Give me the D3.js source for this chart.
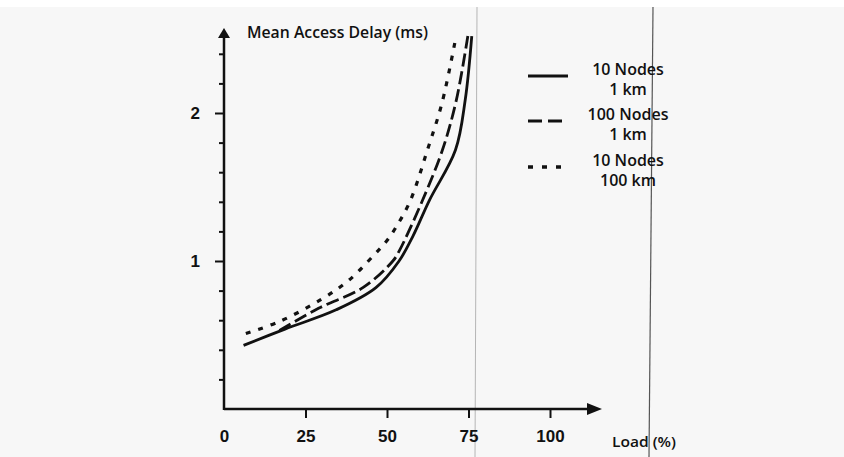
<!DOCTYPE html>
<html>
<head>
<meta charset="utf-8">
<script src="https://cdn.jsdelivr.net/npm/d3@7"></script>
<style>
  body { margin: 0; background: #fff; }
  svg { display: block; font-family: "Open Sans", "DejaVu Sans", sans-serif; }
  text { fill: #111; font-weight: 600; }
</style>
</head>
<body>
<svg width="844" height="457"></svg>
<script>
// values (load %, mean delay ms)
const solidLoad  = [6, 18.7, 34.4, 46.6, 53.7, 58, 63, 71, 74, 76];
const solidDelay = [0.43, 0.54, 0.67, 0.82, 1.0, 1.17, 1.41, 1.75, 2.09, 2.52];

const dashLoad  = [17, 29, 42.6, 51.8, 53.8, 60.9, 67, 71.2, 74.8];
const dashDelay = [0.53, 0.68, 0.82, 1.0, 1.07, 1.41, 1.75, 2.08, 2.52];

const dotLoad  = [6.7, 16.9, 29.8, 38.3, 46, 49.7, 52.8, 57.2, 62.4, 66.9, 71.2];
const dotDelay = [0.51, 0.59, 0.74, 0.87, 1.04, 1.13, 1.23, 1.41, 1.75, 2.07, 2.52];

const xTicks = [0, 25, 50, 75, 100];
const yTicks = [0.2, 0.4, 0.6, 0.8, 1, 1.2, 1.4, 1.6, 1.8, 2, 2.2, 2.4];
const yLabels = [1, 2];

const series = [
  {name: ["10 Nodes", "1 km"],   load: solidLoad, delay: solidDelay, dash: null},
  {name: ["100 Nodes", "1 km"],  load: dashLoad,  delay: dashDelay,  dash: "13,5"},
  {name: ["10 Nodes", "100 km"], load: dotLoad,   delay: dotDelay,   dash: "5,8"}
];

const svg = d3.select("svg");

// scanned page look
svg.append("rect").attr("y", 7).attr("width", 844).attr("height", 450).attr("fill", "#f7f7f7");
svg.append("line").attr("x1", 477).attr("y1", 7).attr("x2", 475).attr("y2", 457)
    .attr("stroke", "#b5b5b5").attr("stroke-width", 1);
svg.append("line").attr("x1", 653).attr("y1", 7).attr("x2", 649).attr("y2", 457)
    .attr("stroke", "#555").attr("stroke-width", 1.2);

const x = d3.scaleLinear().domain([0, 100]).range([224, 550]);
const y = d3.scaleLinear().domain([0, 2.5]).range([409, 39]);
const y0 = y(0), x0 = x(0);

// x axis
const xAxis = svg.append("g")
    .attr("transform", `translate(0,${y0})`)
    .call(d3.axisBottom(x).tickValues(xTicks).tickSize(9).tickPadding(12));
xAxis.select(".domain").remove();
xAxis.selectAll(".tick line").attr("stroke", "#111").attr("stroke-width", 2)
    .filter(d => d === 0).remove();
xAxis.selectAll(".tick text").attr("font-size", 17).attr("font-family", null).attr("fill", "#111");

// y axis
const yAxis = svg.append("g")
    .attr("transform", `translate(${x0},0)`)
    .call(d3.axisLeft(y).tickValues(yTicks).tickSize(5).tickPadding(19)
      .tickFormat(d => yLabels.includes(d) ? d3.format("d")(d) : ""));
yAxis.select(".domain").remove();
yAxis.selectAll(".tick line").attr("stroke", "#111").attr("stroke-width", 2)
    .attr("x2", d => yLabels.includes(d) ? -9 : -5);
yAxis.selectAll(".tick text").attr("font-size", 17).attr("font-family", null).attr("fill", "#111");

// axis lines with arrows
svg.append("line").attr("x1", x0).attr("x2", 590).attr("y1", y0).attr("y2", y0)
    .attr("stroke", "#111").attr("stroke-width", 2.5);
svg.append("path").attr("d", `M587,${y0 - 6}L602,${y0}L587,${y0 + 6}Z`).attr("fill", "#111");
svg.append("line").attr("x1", x0).attr("x2", x0).attr("y1", y0 + 1).attr("y2", 36)
    .attr("stroke", "#111").attr("stroke-width", 2.5);
svg.append("path").attr("d", `M${x0 - 6},38L${x0},28L${x0 + 6},38Z`).attr("fill", "#111");

svg.append("text").attr("x", 247).attr("y", 38).attr("font-size", 15.5)
    .attr("textLength", 181).attr("lengthAdjust", "spacingAndGlyphs")
    .text("Mean Access Delay (ms)");
svg.append("text").attr("x", 612).attr("y", 447).attr("font-size", 15)
    .attr("textLength", 64).attr("lengthAdjust", "spacingAndGlyphs")
    .text("Load (%)");

// curves
const line = d3.line()
    .curve(d3.curveCatmullRom.alpha(0.5))
    .x(d => x(d[0]))
    .y(d => y(d[1]));

series.forEach(s => {
  svg.append("path")
      .datum(s.load.map((l, i) => [l, s.delay[i]]))
      .attr("fill", "none")
      .attr("stroke", "#111")
      .attr("stroke-width", s.dash === "5,8" ? 3.2 : 2.8)
      .attr("stroke-dasharray", s.dash)
      .attr("d", line);
});

// legend
const legend = svg.append("g");
const legendY = [76, 121, 167];
series.forEach((s, i) => {
  const g = legend.append("g").attr("transform", `translate(0,${legendY[i]})`);
  g.append("line").attr("x1", 528).attr("x2", 568)
      .attr("stroke", "#111").attr("stroke-width", s.dash === "5,8" ? 3.5 : 3)
      .attr("stroke-dasharray", s.dash === "5,8" ? "5,9" : s.dash === null ? null : "14,6");
  g.selectAll("text").data(s.name).join("text")
      .attr("x", 628)
      .attr("y", (d, j) => j * 20 - 1)
      .attr("text-anchor", "middle")
      .attr("font-size", 16)
      .text(d => d);
});
</script>
</body>
</html>
